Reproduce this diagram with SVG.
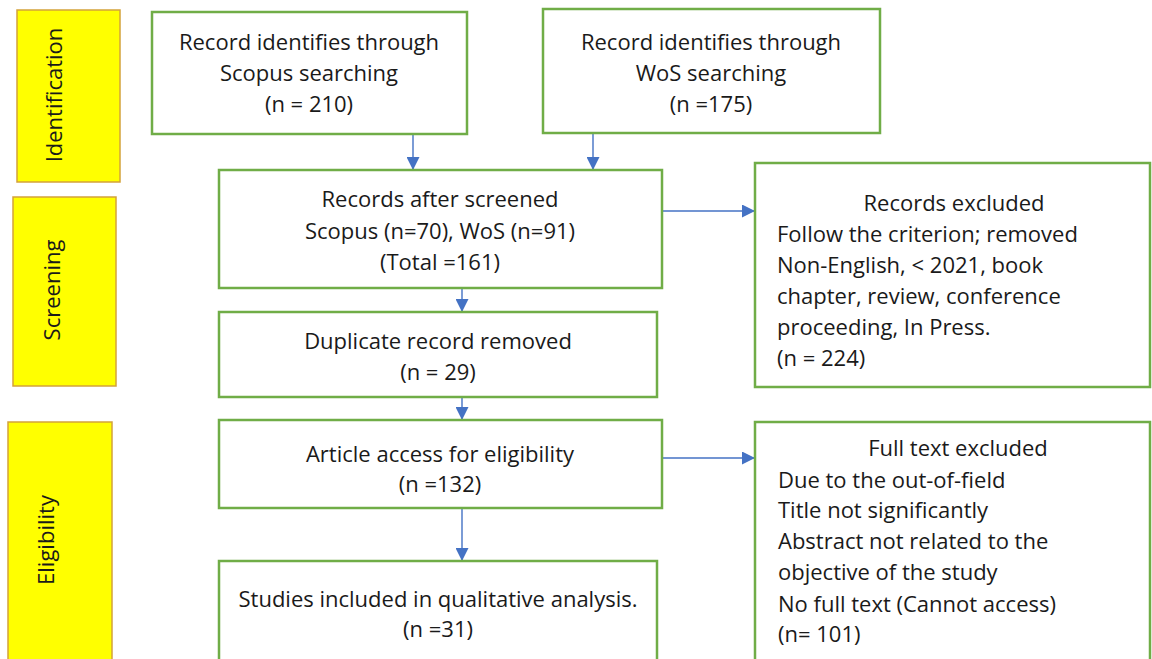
<svg xmlns="http://www.w3.org/2000/svg" width="1152" height="659" viewBox="0 0 1152 659">
<style>
.stage{fill:#FFFF00;stroke:#D4A23A;stroke-width:1.5}
.box{fill:#FFFFFF;stroke:#70AD47;stroke-width:2.5}
.t{font-family:"Open Sans","Noto Sans",sans-serif;font-size:22px;fill:#1a1a1a}
.c{text-anchor:middle}
.conn{stroke:#4472C4;stroke-width:1.4;fill:none;marker-end:url(#ah)}
</style>
<defs>
<marker id="ah" markerUnits="userSpaceOnUse" markerWidth="13" markerHeight="13" viewBox="0 0 12 12" refX="12" refY="6" orient="auto">
<path d="M0,0 L12,6 L0,12 Z" fill="#4472C4"/>
</marker>
</defs>
<rect width="1152" height="659" fill="#FFFFFF"/>
<g id="stage-identification">
<rect class="stage" x="17" y="10" width="103" height="172"/>
<text class="t c" transform="translate(62,95) rotate(-90)">Identification</text>
</g>
<g id="stage-screening">
<rect class="stage" x="13" y="197" width="103" height="189"/>
<text class="t c" transform="translate(60,290) rotate(-90)">Screening</text>
</g>
<g id="stage-eligibility">
<rect class="stage" x="8" y="422" width="104" height="245"/>
<text class="t c" transform="translate(54,540) rotate(-90)">Eligibility</text>
</g>
<g id="connectors">
<line class="conn" x1="413" y1="134" x2="413" y2="170"/>
<line class="conn" x1="593" y1="133" x2="593" y2="170"/>
<line class="conn" x1="462" y1="288" x2="462" y2="312"/>
<line class="conn" x1="462" y1="397" x2="462" y2="420"/>
<line class="conn" x1="462" y1="508" x2="462" y2="561"/>
<line class="conn" x1="662" y1="211" x2="755" y2="211"/>
<line class="conn" x1="662" y1="458" x2="755" y2="458"/>
</g>
<g id="scopus">
<rect class="box" x="152" y="12" width="315" height="122"/>
<text class="t c" x="309" y="50">Record identifies through</text>
<text class="t c" x="309" y="81">Scopus searching</text>
<text class="t c" x="309" y="112">(n = 210)</text>
</g>
<g id="wos">
<rect class="box" x="543" y="9" width="337" height="124"/>
<text class="t c" x="711" y="50">Record identifies through</text>
<text class="t c" x="711" y="81">WoS searching</text>
<text class="t c" x="711" y="112">(n =175)</text>
</g>
<g id="screened">
<rect class="box" x="219" y="170" width="443" height="118"/>
<text class="t c" x="440" y="207">Records after screened</text>
<text class="t c" x="440" y="239">Scopus (n=70), WoS (n=91)</text>
<text class="t c" x="440" y="270">(Total =161)</text>
</g>
<g id="duplicate">
<rect class="box" x="219" y="312" width="438" height="85"/>
<text class="t c" x="438" y="349">Duplicate record removed</text>
<text class="t c" x="438" y="380">(n = 29)</text>
</g>
<g id="eligibility-access">
<rect class="box" x="219" y="420" width="443" height="88"/>
<text class="t c" x="440" y="462">Article access for eligibility</text>
<text class="t c" x="440" y="492">(n =132)</text>
</g>
<g id="included">
<rect class="box" x="219" y="561" width="438" height="110"/>
<text class="t c" x="438" y="607">Studies included in qualitative analysis.</text>
<text class="t c" x="438" y="637">(n =31)</text>
</g>
<g id="records-excluded">
<rect class="box" x="755" y="163" width="395" height="224"/>
<text class="t c" x="954" y="211">Records excluded</text>
<text class="t" x="777" y="242">Follow the criterion; removed</text>
<text class="t" x="777" y="273">Non-English, &lt; 2021, book</text>
<text class="t" x="777" y="304">chapter, review, conference</text>
<text class="t" x="777" y="335">proceeding, In Press.</text>
<text class="t" x="777" y="366">(n = 224)</text>
</g>
<g id="fulltext-excluded">
<rect class="box" x="755" y="422" width="395" height="250"/>
<text class="t c" x="958" y="456">Full text excluded</text>
<text class="t" x="778" y="488">Due to the out-of-field</text>
<text class="t" x="778" y="518">Title not significantly</text>
<text class="t" x="778" y="549">Abstract not related to the</text>
<text class="t" x="778" y="580">objective of the study</text>
<text class="t" x="778" y="612">No full text (Cannot access)</text>
<text class="t" x="778" y="642">(n= 101)</text>
</g>
</svg>
